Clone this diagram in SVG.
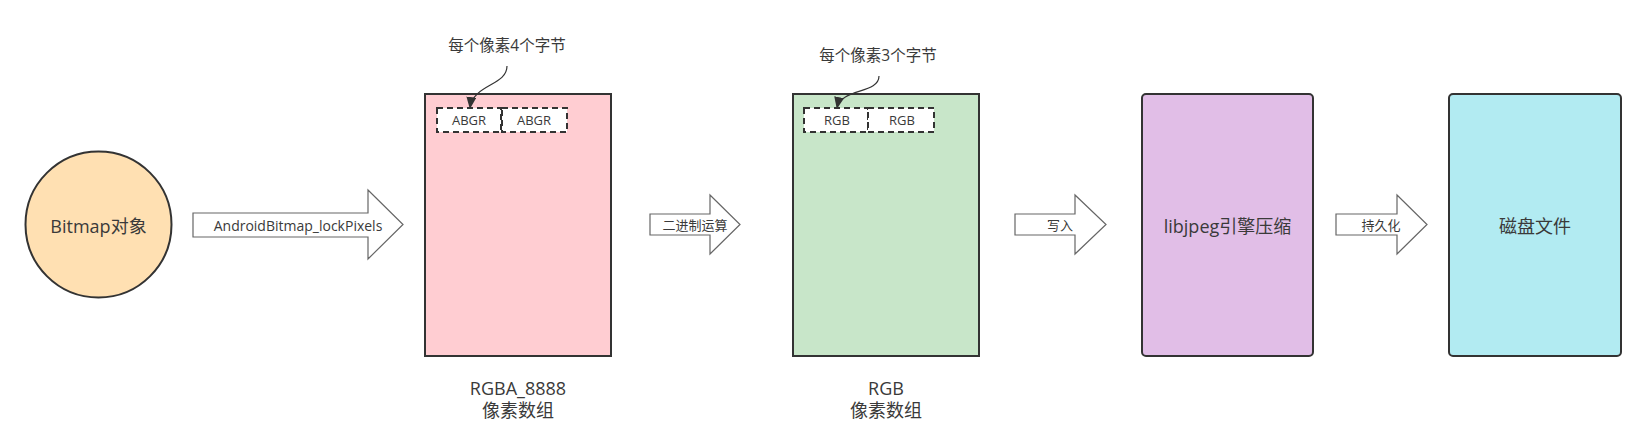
<svg xmlns="http://www.w3.org/2000/svg" width="1646" height="443" viewBox="0 0 1646 443">
<style>
  text { font-family: "Open Sans", "Noto Sans CJK SC", sans-serif; fill: #3a3a3a; text-anchor: middle; dominant-baseline: central; }
  .node { stroke: #333; stroke-width: 2; }
  .dash { fill: #fff; stroke: #333; stroke-width: 2; stroke-dasharray: 6 4; }
  .arrow { fill: #fff; stroke: #666; stroke-width: 1.2; }
  .conn { fill: none; stroke: #333; stroke-width: 1.2; }
  .big { font-size: 18px; }
  .small { font-size: 13px; }
</style>
<defs>
  <marker id="tri" viewBox="0 0 12 10" refX="11" refY="5" markerWidth="12" markerHeight="10" markerUnits="userSpaceOnUse" orient="auto">
    <path d="M0,0 L12,5 L0,10 z" fill="#333"/>
  </marker>
</defs>
<rect width="1646" height="443" fill="#fff"/>

<g id="bitmap">
  <circle class="node" cx="98.5" cy="224.5" r="73" fill="#FFE0B2"/>
  <text class="big" x="98.5" y="226">Bitmap对象</text>
</g>

<g id="rgba">
  <rect class="node" x="425" y="94" width="186" height="262" fill="#FFCDD2"/>
  <rect class="dash" x="437" y="108" width="64" height="24"/>
  <rect class="dash" x="502" y="108" width="65" height="24"/>
  <text class="small" x="469" y="120">ABGR</text>
  <text class="small" x="534" y="120">ABGR</text>
  <text class="big" x="518" y="388">RGBA_8888</text>
  <text class="big" x="518" y="410">像素数组</text>
</g>

<g id="rgb">
  <rect class="node" x="793" y="94" width="186" height="262" fill="#C8E6C9"/>
  <rect class="dash" x="804" y="108" width="64" height="24"/>
  <rect class="dash" x="868" y="108" width="66" height="24"/>
  <text class="small" x="837" y="120">RGB</text>
  <text class="small" x="902" y="120">RGB</text>
  <text class="big" x="886" y="388">RGB</text>
  <text class="big" x="886" y="410">像素数组</text>
</g>

<g id="libjpeg">
  <rect class="node" x="1142" y="94" width="171" height="262" rx="4" fill="#E1BEE7"/>
  <text class="big" x="1227.5" y="226">libjpeg引擎压缩</text>
</g>

<g id="disk">
  <rect class="node" x="1449" y="94" width="172" height="262" rx="4" fill="#B2EBF2"/>
  <text class="big" x="1535" y="226">磁盘文件</text>
</g>

<g id="note4">
  <text style="font-size:15.5px" x="507" y="45">每个像素4个字节</text>
</g>
<g id="note3">
  <text style="font-size:15.5px" x="878" y="55">每个像素3个字节</text>
</g>

<g id="connectors">
  <polygon class="arrow" points="193,213 368,213 368,190 403,224.5 368,259 368,237 193,237"/>
  <text style="font-size:14px" x="298" y="225">AndroidBitmap_lockPixels</text>
  <polygon class="arrow" points="650,214 710,214 710,195 740,224.5 710,254 710,235 650,235"/>
  <text class="small" x="695" y="225">二进制运算</text>
  <polygon class="arrow" points="1015,214 1075,214 1075,195 1106,224.5 1075,254 1075,235 1015,235"/>
  <text class="small" x="1060" y="225">写入</text>
  <polygon class="arrow" points="1336,214 1397,214 1397,195 1427,224.5 1397,254 1397,235 1336,235"/>
  <text class="small" x="1381" y="225">持久化</text>
  <path class="conn" d="M507,66 C507,86 473,84 470,108" marker-end="url(#tri)"/>
  <path class="conn" d="M879,76 C879,94 841,88 837,108" marker-end="url(#tri)"/>
</g>
</svg>
